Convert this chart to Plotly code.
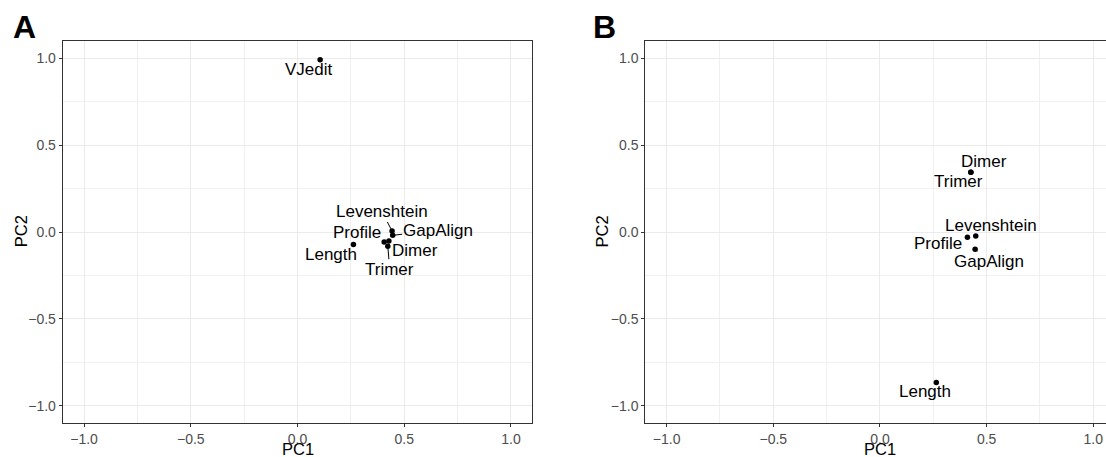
import plotly.graph_objects as go

# PCA loadings of the distance measures, two analyses
methods_a = ["VJedit", "Length", "Levenshtein", "GapAlign", "Profile", "Dimer", "Trimer"]
pc1_a = [0.106, 0.262, 0.443, 0.446, 0.406, 0.428, 0.423]
pc2_a = [0.991, -0.072, 0.006, -0.019, -0.057, -0.052, -0.082]

methods_b = ["Dimer", "Trimer", "Levenshtein", "Profile", "GapAlign", "Length"]
pc1_b = [0.426, 0.426, 0.449, 0.410, 0.446, 0.264]
pc2_b = [0.344, 0.344, -0.023, -0.030, -0.099, -0.866]

tick_vals = [-1.0, -0.5, 0.0, 0.5, 1.0]
tick_text = ["\u22121.0", "\u22120.5", "0.0", "0.5", "1.0"]

# label placement (pixel offsets from the point) and whether a leader segment is drawn
offsets_a = {
    "VJedit": (-11, 10, False),
    "Length": (-22, 10, False),
    "Levenshtein": (-10, -19, True),
    "GapAlign": (45, -5, True),
    "Profile": (-27, -9, False),
    "Dimer": (26, 9, False),
    "Trimer": (2, 23, True),
}
offsets_b = {
    "Dimer": (13, -11, False),
    "Trimer": (-12, 9, False),
    "Levenshtein": (15, -11, False),
    "Profile": (-29, 6, False),
    "GapAlign": (14, 12, True),
    "Length": (-11, 9, False),
}

FONT = "Liberation Sans, Arial, Helvetica, sans-serif"
W, H = 1106, 457
y_dom = [1 - 423.3 / H, 1 - 40.7 / H]
xa_dom = [62.7 / W, 532.3 / W]
xb_dom = [645.3 / W, 1.0]

fig = go.Figure()
fig.add_trace(go.Scatter(x=pc1_a, y=pc2_a, mode="markers", xaxis="x", yaxis="y",
                         marker=dict(size=5.5, color="black"), showlegend=False))
fig.add_trace(go.Scatter(x=pc1_b, y=pc2_b, mode="markers", xaxis="x2", yaxis="y2",
                         marker=dict(size=5.5, color="black"), showlegend=False))

annotations = []


def add_labels(names, xs, ys, offsets, xref, yref):
    for n, x, y in zip(names, xs, ys):
        dx, dy, seg = offsets[n]
        if seg:
            annotations.append(dict(x=x, y=y, xref=xref, yref=yref, text=n, showarrow=True,
                                    ax=dx, ay=dy, arrowhead=0, arrowwidth=1, arrowcolor="black",
                                    standoff=2, borderpad=0,
                                    font=dict(family=FONT, size=17, color="black")))
        else:
            annotations.append(dict(x=x, y=y, xref=xref, yref=yref, text=n, showarrow=False,
                                    xshift=dx, yshift=-dy,
                                    font=dict(family=FONT, size=17, color="black")))


add_labels(methods_a, pc1_a, pc2_a, offsets_a, "x", "y")
add_labels(methods_b, pc1_b, pc2_b, offsets_b, "x2", "y2")

# axis titles and panel tags
title_font = dict(family=FONT, size=16.5, color="black")
annotations += [
    dict(text="PC1", x=sum(xa_dom) / 2, y=1 - 449 / H, xref="paper", yref="paper",
         showarrow=False, font=title_font, xanchor="center", yanchor="middle"),
    dict(text="PC1", x=880 / W, y=1 - 449 / H, xref="paper", yref="paper",
         showarrow=False, font=title_font, xanchor="center", yanchor="middle"),
    dict(text="PC2", x=20.5 / W, y=1 - 231.7 / H, xref="paper", yref="paper", textangle=-90,
         showarrow=False, font=title_font, xanchor="center", yanchor="middle"),
    dict(text="PC2", x=601.8 / W, y=1 - 231.7 / H, xref="paper", yref="paper", textangle=-90,
         showarrow=False, font=title_font, xanchor="center", yanchor="middle"),
    dict(text="<b>A</b>", x=24.1 / W, y=1 - 27.2 / H, xref="paper", yref="paper",
         showarrow=False, font=dict(family=FONT, size=32, color="black"),
         xanchor="center", yanchor="middle"),
    dict(text="<b>B</b>", x=604.2 / W, y=1 - 27.2 / H, xref="paper", yref="paper",
         showarrow=False, font=dict(family=FONT, size=32, color="black"),
         xanchor="center", yanchor="middle"),
]

axis_common = dict(
    tickvals=tick_vals, ticktext=tick_text, ticks="outside", ticklen=3, tickwidth=1,
    tickcolor="#333333", tickfont=dict(family=FONT, size=14, color="#4D4D4D"),
    showgrid=True, gridcolor="#EBEBEB", gridwidth=1.2, zeroline=False,
    showline=True, linecolor="#333333", linewidth=1,
    minor=dict(tickvals=[-0.75, -0.25, 0.25, 0.75], showgrid=True,
               gridcolor="#F0F0F0", gridwidth=0.9, ticks=""),
)

fig.update_layout(
    width=W, height=H, margin=dict(l=0, r=0, t=0, b=0),
    paper_bgcolor="white", plot_bgcolor="white",
    xaxis=dict(domain=xa_dom, range=[-1.1, 1.1], mirror=True, anchor="y", **axis_common),
    yaxis=dict(domain=y_dom, range=[-1.1, 1.1], mirror=True, anchor="x", **axis_common),
    xaxis2=dict(domain=xb_dom, range=[-1.1, (W - 880) / 213.3], mirror=True, anchor="y2",
                **axis_common),
    yaxis2=dict(domain=y_dom, range=[-1.1, 1.1], mirror=False, anchor="x2", **axis_common),
    annotations=annotations,
    showlegend=False,
)

fig.write_html("out.html")
